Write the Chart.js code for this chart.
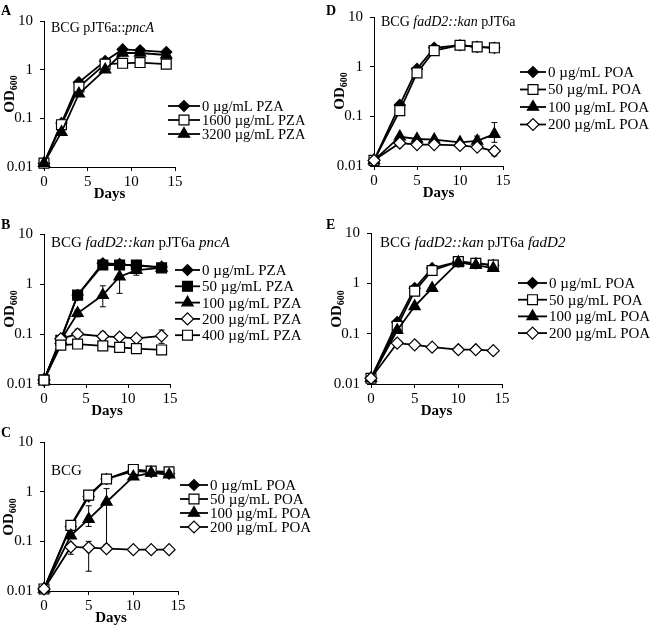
<!DOCTYPE html>
<html>
<head>
<meta charset="utf-8">
<script src="https://cdn.jsdelivr.net/npm/chart.js@4"></script>
<style>
  body { margin: 0; background: #fff; }
  #wrap { position: relative; width: 650px; height: 627px; }
  #wrap canvas { position: absolute; left: 0; top: 0; }
</style>
</head>
<body>
<div id="wrap">
  <canvas id="chartA" width="650" height="627"></canvas>
  <canvas id="chartB" width="650" height="627"></canvas>
  <canvas id="chartC" width="650" height="627"></canvas>
  <canvas id="chartD" width="650" height="627"></canvas>
  <canvas id="chartE" width="650" height="627"></canvas>
</div>
<script>
// shared axes
const yTickValues = [0.01, 0.1, 1, 10];
const yTickLabels = ['0.01', '0.1', '1', '10'];
const xTickValues = [0, 5, 10, 15];

// Panel A - BCG pJT6a::pncA
const daysA = [0, 2, 4, 7, 9, 11, 14];
const labelsA = ['0 µg/mL PZA', '1600 µg/mL PZA', '3200 µg/mL PZA'];
const a_pza0 = [0.012, 0.08, 0.55, 1.5, 2.6, 2.5, 2.3];
const a_pza1600 = [0.012, 0.074, 0.44, 1.3, 1.35, 1.4, 1.3];
const a_pza3200 = [0.012, 0.052, 0.32, 1.0, 2.2, 2.2, 2.0];

// Panel B - BCG fadD2::kan pJT6a pncA
const daysB = [0, 2, 4, 7, 9, 11, 14];
const labelsB = ['0 µg/mL PZA', '50 µg/mL PZA', '100 µg/mL PZA', '200 µg/mL PZA', '400 µg/mL PZA'];
const b_pza0 = [0.012, 0.08, 0.6, 2.6, 2.5, 2.3, 2.2];
const b_pza50 = [0.012, 0.075, 0.6, 2.4, 2.4, 2.4, 2.1];
const b_pza100 = [0.012, 0.075, 0.26, 0.6, 1.4, 1.9, 2.1];
const b_pza200 = [0.012, 0.08, 0.1, 0.09, 0.087, 0.082, 0.092];
const b_pza400 = [0.012, 0.06, 0.063, 0.058, 0.054, 0.051, 0.048];
const b_pza100_err = [null, null, [0.22, 0.3], [0.35, 0.92], [0.65, 2.1], [1.5, 2.3], null];
const b_pza200_err = [null, null, [0.09, 0.125], [0.08, 0.11], [0.075, 0.1], null, [0.065, 0.12]];
const b_pza400_err = [null, null, null, null, null, null, [0.042, 0.057]];

// Panel C - BCG
const daysC = [0, 3, 5, 7, 10, 12, 14];
const labelsC = ['0 µg/mL POA', '50 µg/mL POA', '100 µg/mL POA', '200 µg/mL POA'];
const c_poa0 = [0.011, 0.2, 0.8, 1.8, 2.6, 2.5, 2.3];
const c_poa50 = [0.011, 0.21, 0.85, 1.8, 2.8, 2.6, 2.5];
const c_poa100 = [0.011, 0.13, 0.28, 0.62, 2.0, 2.4, 2.2];
const c_poa200 = [0.011, 0.077, 0.075, 0.071, 0.068, 0.068, 0.068];
const c_poa100_err = [null, null, [0.2, 0.52], [0.085, 1.15], null, null, null];
const c_poa200_err = [null, [0.055, 0.09], [0.025, 0.1], null, null, [0.057, 0.075], null];

// Panel D - BCG fadD2::kan pJT6a
const daysD = [0, 3, 5, 7, 10, 12, 14];
const labelsD = ['0 µg/mL POA', '50 µg/mL POA', '100 µg/mL POA', '200 µg/mL POA'];
const d_poa0 = [0.013, 0.17, 0.9, 2.4, 2.7, 2.5, 2.4];
const d_poa50 = [0.013, 0.13, 0.75, 2.1, 2.7, 2.5, 2.4];
const d_poa100 = [0.013, 0.039, 0.035, 0.034, 0.03, 0.032, 0.044];
const d_poa200 = [0.013, 0.029, 0.027, 0.027, 0.026, 0.024, 0.02];
const d_poa100_err = [null, null, null, null, null, [0.027, 0.04], [0.03, 0.075]];
const d_poa200_err = [null, null, null, null, null, null, [0.016, 0.024]];

// Panel E - BCG fadD2::kan pJT6a fadD2
const daysE = [0, 3, 5, 7, 10, 12, 14];
const labelsE = ['0 µg/mL POA', '50 µg/mL POA', '100 µg/mL POA', '200 µg/mL POA'];
const e_poa0 = [0.013, 0.17, 0.8, 2.0, 2.7, 2.5, 2.3];
const e_poa50 = [0.013, 0.14, 0.7, 1.8, 2.7, 2.5, 2.3];
const e_poa100 = [0.013, 0.117, 0.35, 0.8, 2.6, 2.3, 2.0];
const e_poa200 = [0.013, 0.065, 0.06, 0.054, 0.048, 0.048, 0.046];

const FONT = "'Liberation Serif', 'Times New Roman', serif";

// marker looks
const fDiamond = { pointStyle: 'rectRot', fill: '#000', radius: 5.5 };
const oDiamond = { pointStyle: 'rectRot', fill: '#fff', radius: 6 };
const oSquare = { pointStyle: 'rect', fill: '#fff', radius: 7 };
const fSquare = { pointStyle: 'rect', fill: '#000', radius: 7 };
const fTriangle = { pointStyle: 'triangle', fill: '#000', radius: 6.5 };

function series(label, days, values, look, errs, idx, n) {
    return {
        label: label,
        data: days.map((d, i) => ({ x: d, y: values[i] })),
        borderColor: '#000',
        borderWidth: 1.8,
        backgroundColor: look.fill,
        pointStyle: look.pointStyle,
        pointRadius: look.radius,
        pointHoverRadius: look.radius,
        pointBackgroundColor: look.fill,
        pointBorderColor: '#000',
        pointBorderWidth: 1.2,
        tension: 0,
        clip: false,
        order: n - idx,
        errorBars: errs || null
    };
}

// letters, subtitle, y title, legend and error bars
const panelDeco = {
    id: 'panelDeco',
    beforeDatasetsDraw(chart) {
        const ctx = chart.ctx;
        const xs = chart.scales.x, ys = chart.scales.y;
        ctx.save();
        ctx.strokeStyle = '#000';
        ctx.lineWidth = 1;
        chart.data.datasets.forEach(ds => {
            if (!ds.errorBars) return;
            ds.errorBars.forEach((e, i) => {
                if (!e) return;
                const x = xs.getPixelForValue(ds.data[i].x);
                const y1 = ys.getPixelForValue(e[0]);
                const y2 = ys.getPixelForValue(e[1]);
                ctx.beginPath();
                ctx.moveTo(x, y1); ctx.lineTo(x, y2);
                ctx.moveTo(x - 3, y1); ctx.lineTo(x + 3, y1);
                ctx.moveTo(x - 3, y2); ctx.lineTo(x + 3, y2);
                ctx.stroke();
            });
        });
        ctx.restore();
    },
    afterDraw(chart) {
        const cfg = chart.options.plugins.panelDeco;
        const ctx = chart.ctx;
        ctx.save();
        ctx.fillStyle = '#000';
        ctx.textBaseline = 'middle';
        ctx.textAlign = 'left';

        ctx.font = 'bold 14px ' + FONT;
        ctx.fillText(cfg.letter[0], cfg.letter[1], cfg.letter[2]);

        let sx = cfg.sub.x;
        cfg.sub.parts.forEach(p => {
            ctx.font = (p[1] ? 'italic ' : '') + cfg.sub.size + 'px ' + FONT;
            ctx.fillText(p[0], sx, cfg.sub.y);
            sx += ctx.measureText(p[0]).width;
        });

        // OD600 rotated
        ctx.save();
        ctx.translate(cfg.od[0], cfg.od[1]);
        ctx.rotate(-Math.PI / 2);
        ctx.font = 'bold 15px ' + FONT;
        const w1 = ctx.measureText('OD').width;
        ctx.font = 'bold 10px ' + FONT;
        const w2 = ctx.measureText('600').width;
        const start = -(w1 + w2) / 2;
        ctx.font = 'bold 15px ' + FONT;
        ctx.fillText('OD', start, 0);
        ctx.font = 'bold 10px ' + FONT;
        ctx.fillText('600', start + w1, 4);
        ctx.restore();

        // legend
        const lg = cfg.legend;
        chart.data.datasets.forEach((ds, i) => {
            const y = lg.y0 + i * lg.dy;
            ctx.strokeStyle = '#000';
            ctx.lineWidth = 1.8;
            ctx.beginPath();
            ctx.moveTo(lg.x0, y); ctx.lineTo(lg.x1, y);
            ctx.stroke();
            ctx.fillStyle = ds.pointBackgroundColor;
            ctx.lineWidth = 1.2;
            Chart.helpers.drawPoint(ctx, {
                pointStyle: ds.pointStyle, radius: ds.pointRadius, rotation: 0, borderWidth: 1.2
            }, (lg.x0 + lg.x1) / 2, y);
            ctx.fillStyle = '#000';
            ctx.font = lg.size + 'px ' + FONT;
            ctx.fillText(ds.label, lg.x1 + 2, y + 1);
        });
        ctx.restore();
    }
};

function makePanel(id, box, datasets, deco) {
    const yW = 40, xH = 36;
    new Chart(document.getElementById(id), {
        type: 'line',
        data: { datasets: datasets },
        plugins: [panelDeco],
        options: {
            responsive: false,
            animation: false,
            events: [],
            layout: {
                padding: { left: box.L - yW, right: 650 - box.R, top: box.T, bottom: 627 - box.B - xH }
            },
            plugins: { legend: { display: false }, tooltip: { enabled: false }, panelDeco: deco },
            scales: {
                x: {
                    type: 'linear', min: 0, max: 15,
                    afterBuildTicks: s => { s.ticks = xTickValues.map(v => ({ value: v })); },
                    ticks: { color: '#000', font: { family: FONT, size: 15 }, padding: 2, maxRotation: 0 },
                    grid: { drawOnChartArea: false, color: '#000', tickLength: 4 },
                    border: { color: '#000', width: 1 },
                    title: { display: true, text: 'Days', color: '#000', font: { family: FONT, size: 15, weight: 'bold' }, padding: 0 },
                    afterFit: s => { s.height = xH; }
                },
                y: {
                    type: 'logarithmic', min: 0.01, max: 10,
                    afterBuildTicks: s => { s.ticks = yTickValues.map(v => ({ value: v })); },
                    ticks: {
                        color: '#000', font: { family: FONT, size: 15 }, padding: 7,
                        callback: v => yTickLabels[yTickValues.indexOf(v)]
                    },
                    grid: { drawOnChartArea: false, color: '#000', tickLength: 4 },
                    border: { color: '#000', width: 1 },
                    afterFit: s => { s.width = yW; }
                }
            }
        }
    });
}

makePanel('chartA', { L: 44, R: 175, T: 21, B: 167 }, [
    series(labelsA[0], daysA, a_pza0, fDiamond, null, 0, 3),
    series(labelsA[1], daysA, a_pza1600, oSquare, null, 1, 3),
    series(labelsA[2], daysA, a_pza3200, fTriangle, null, 2, 3)
], {
    letter: ['A', 1, 11],
    sub: { x: 51, y: 28, size: 14, parts: [['BCG pJT6a::', false], ['pncA', true]] },
    od: [10, 94],
    legend: { x0: 168, x1: 200, y0: 106, dy: 14, size: 14.5 }
});

makePanel('chartB', { L: 44, R: 170, T: 234, B: 384 }, [
    series(labelsB[0], daysB, b_pza0, fDiamond, null, 0, 5),
    series(labelsB[1], daysB, b_pza50, fSquare, null, 1, 5),
    series(labelsB[2], daysB, b_pza100, fTriangle, b_pza100_err, 2, 5),
    series(labelsB[3], daysB, b_pza200, oDiamond, b_pza200_err, 3, 5),
    series(labelsB[4], daysB, b_pza400, oSquare, b_pza400_err, 4, 5)
], {
    letter: ['B', 1, 225],
    sub: { x: 51, y: 243, size: 15, parts: [['BCG ', false], ['fadD2::kan', true], [' pJT6a ', false], ['pncA', true]] },
    od: [10, 309],
    legend: { x0: 175, x1: 200, y0: 270, dy: 16.3, size: 15 }
});

makePanel('chartC', { L: 44, R: 178, T: 442, B: 591 }, [
    series(labelsC[0], daysC, c_poa0, fDiamond, null, 0, 4),
    series(labelsC[1], daysC, c_poa50, oSquare, null, 1, 4),
    series(labelsC[2], daysC, c_poa100, fTriangle, c_poa100_err, 2, 4),
    series(labelsC[3], daysC, c_poa200, oDiamond, c_poa200_err, 3, 4)
], {
    letter: ['C', 1, 433],
    sub: { x: 51, y: 471, size: 15, parts: [['BCG', false]] },
    od: [9, 517],
    legend: { x0: 180, x1: 208, y0: 485, dy: 14, size: 15 }
});

makePanel('chartD', { L: 374, R: 503, T: 17, B: 166 }, [
    series(labelsD[0], daysD, d_poa0, fDiamond, null, 0, 4),
    series(labelsD[1], daysD, d_poa50, oSquare, null, 1, 4),
    series(labelsD[2], daysD, d_poa100, fTriangle, d_poa100_err, 2, 4),
    series(labelsD[3], daysD, d_poa200, oDiamond, d_poa200_err, 3, 4)
], {
    letter: ['D', 326, 11],
    sub: { x: 381, y: 22, size: 14, parts: [['BCG ', false], ['fadD2::kan', true], [' pJT6a', false]] },
    od: [340, 91],
    legend: { x0: 520, x1: 546, y0: 72, dy: 17.5, size: 15 }
});

makePanel('chartE', { L: 371, R: 502, T: 233, B: 384 }, [
    series(labelsE[0], daysE, e_poa0, fDiamond, null, 0, 4),
    series(labelsE[1], daysE, e_poa50, oSquare, null, 1, 4),
    series(labelsE[2], daysE, e_poa100, fTriangle, null, 2, 4),
    series(labelsE[3], daysE, e_poa200, oDiamond, null, 3, 4)
], {
    letter: ['E', 326, 225],
    sub: { x: 380, y: 243, size: 15, parts: [['BCG ', false], ['fadD2::kan', true], [' pJT6a ', false], ['fadD2', true]] },
    od: [337, 309],
    legend: { x0: 518, x1: 547, y0: 283, dy: 16.7, size: 15 }
});
</script>
</body>
</html>
